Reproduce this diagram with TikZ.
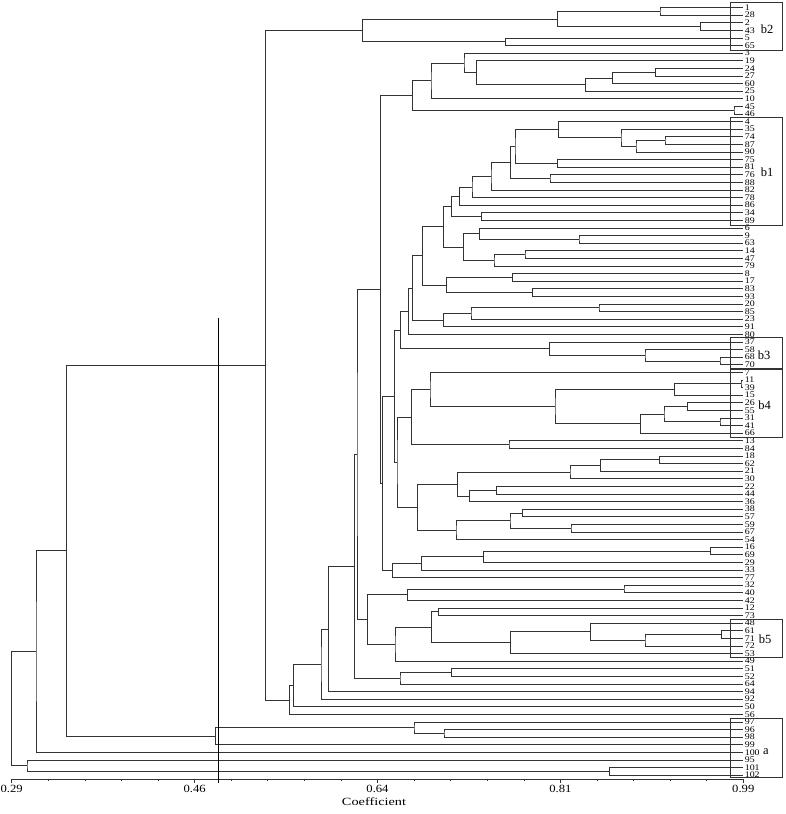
\documentclass[tikz,border=0pt]{standalone}
\usepackage{fontspec}
\setmainfont{Liberation Serif}
\usetikzlibrary{calc}
\newcommand\jn[4]{%
  \path let \p1=(#3), \p2=(#4) in ({#2pt},{(\y1+\y2)/2}) coordinate (#1);%
  \draw[br] (#3) -| (#1) |- (#4);%
}
\begin{document}
\begin{tikzpicture}[x=1pt,y=-1pt,
  br/.style={draw=black!80,line width=0.55pt},
  lf/.style={anchor=west,inner sep=0.3pt,font=\fontsize{8.6}{8.6}\selectfont},
  grpbox/.style={draw=black!80,line width=0.8pt},
  grplab/.style={font=\fontsize{12.5}{12.5}\selectfont,inner sep=0pt},
  axst/.style={draw=black!80,line width=0.6pt},
  axlab/.style={font=\fontsize{11}{11}\selectfont,inner sep=0pt},
  cutst/.style={draw=black,line width=0.7pt}]
\useasboundingbox (0,0) rectangle (786,814);
% leaves
\foreach \lab [count=\i from 0] in {1,28,2,43,5,65,3,19,24,27,60,25,10,45,46,4,35,74,87,90,75,81,76,88,82,78,86,34,89,6,9,63,14,47,79,8,17,83,93,20,85,23,91,80,37,58,68,70,7,11,39,15,26,55,31,41,66,13,84,18,62,21,30,22,44,36,38,57,59,67,54,16,69,29,33,77,32,40,42,12,73,48,61,71,72,53,49,51,52,64,94,92,50,56,97,96,98,99,100,95,101,102} {
  \coordinate (L\lab) at (743,{7.5+7.6*\i});
  \node[lf] (t\lab) at (744.3,{7.5+7.6*\i}) {\scalebox{1.15}[1]{\lab}};
}
% b2
\jn{a1}{660}{L1}{L28}
\jn{a2}{700.7}{L2}{L43}
\jn{a3}{557.7}{a1}{a2}
\jn{a4}{505.7}{L5}{L65}
\jn{a5}{362.7}{a3}{a4}
% cluster 3..46
\jn{c1}{655.7}{L24}{L27}
\jn{c2}{612.7}{c1}{L60}
\jn{c3}{585.7}{c2}{L25}
\jn{c4}{476.7}{L19}{c3}
\jn{c5}{464}{L3}{c4}
\jn{c6}{431}{c5}{L10}
\jn{c7}{734}{L45}{L46}
\jn{c8}{412.3}{c6}{c7}
% b1
\jn{d1}{665}{L74}{L87}
\jn{d2}{636}{d1}{L90}
\jn{d3}{621}{L35}{d2}
\jn{d4}{558.7}{L4}{d3}
\jn{d5}{557.3}{L75}{L81}
\jn{d6}{515}{d4}{d5}
\jn{d7}{550}{L76}{L88}
\jn{d8}{510.7}{d6}{d7}
\jn{d9}{491}{d8}{L82}
\jn{d10}{472}{d9}{L78}
\jn{d11}{459.3}{d10}{L86}
\jn{d12}{481.7}{L34}{L89}
\jn{d13}{451.7}{d11}{d12}
\jn{e1}{579}{L9}{L63}
\jn{e2}{479.3}{L6}{e1}
\jn{e3}{525}{L14}{L47}
\jn{e4}{494}{e3}{L79}
\jn{e5}{463.3}{e2}{e4}
\jn{e6}{443.7}{d13}{e5}
\jn{e7}{512.3}{L8}{L17}
\jn{e8}{532.3}{L83}{L93}
\jn{e9}{446.7}{e7}{e8}
\jn{e10}{422.7}{e6}{e9}
\jn{e11}{599}{L20}{L85}
\jn{e12}{471}{e11}{L23}
\jn{e13}{443.7}{e12}{L91}
\jn{e14}{412.7}{e10}{e13}
\jn{e15}{408.7}{e14}{L80}
% b3
\jn{f1}{720}{L68}{L70}
\jn{f2}{645}{L58}{f1}
\jn{f3}{549.3}{L37}{f2}
\jn{f4}{400.7}{e15}{f3}
% b4
\jn{g1}{741}{L11}{L39}
\jn{g2}{674.3}{g1}{L15}
\jn{g3}{687.7}{L26}{L55}
\jn{g4}{720}{L31}{L41}
\jn{g5}{664}{g3}{g4}
\jn{g6}{640.7}{g5}{L66}
\jn{g7}{555}{g2}{g6}
\jn{g8}{430}{L7}{g7}
\jn{g9}{509}{L13}{L84}
\jn{g10}{411.7}{g8}{g9}
\jn{h1}{659.3}{L18}{L62}
\jn{h2}{600.7}{h1}{L21}
\jn{h3}{570}{h2}{L30}
\jn{h4}{496.7}{L22}{L44}
\jn{h5}{469.3}{h4}{L36}
\jn{h6}{457.3}{h3}{h5}
\jn{h7}{522.7}{L38}{L57}
\jn{h8}{571}{L59}{L67}
\jn{h9}{510}{h7}{h8}
\jn{h10}{456}{h9}{L54}
\jn{h11}{417.7}{h6}{h10}
\jn{h12}{397}{g10}{h11}
\jn{h13}{394.7}{f4}{h12}
\jn{i1}{710.7}{L16}{L69}
\jn{i2}{483.3}{i1}{L29}
\jn{i3}{421.7}{i2}{L33}
\jn{i4}{392.5}{i3}{L77}
\jn{i5}{382.5}{h13}{i4}
\jn{i6}{380.7}{c8}{i5}
% b5 and neighbours
\jn{j1}{624}{L32}{L40}
\jn{j2}{407.7}{j1}{L42}
\jn{j3}{438.3}{L12}{L73}
\jn{j4}{721.7}{L61}{L71}
\jn{j5}{645}{j4}{L72}
\jn{j6}{590.7}{L48}{j5}
\jn{j7}{510.7}{j6}{L53}
\jn{j8}{431.3}{j3}{j7}
\jn{j9}{395}{j8}{L49}
\jn{j10}{367.3}{j2}{j9}
\jn{k1}{357}{i6}{j10}
\jn{k2}{451.7}{L51}{L52}
\jn{k3}{400}{k2}{L64}
\jn{k4}{354.5}{k1}{k3}
\jn{k5}{328.3}{k4}{L94}
\jn{k6}{321}{k5}{L92}
\jn{k7}{293.3}{k6}{L50}
\jn{k8}{289.3}{k7}{L56}
\jn{m1}{265.7}{a5}{k8}
% group a
\jn{n1}{444}{L96}{L98}
\jn{n2}{414}{L97}{n1}
\jn{n3}{215.7}{n2}{L99}
\jn{n4}{66.3}{m1}{n3}
\jn{p1}{609.3}{L101}{L102}
\jn{p2}{27}{L95}{p1}
\jn{r1}{36}{n4}{L100}
\jn{r0}{11.7}{r1}{p2}
% group boxes
\draw[grpbox] (730.7,2.3) rectangle (782.3,50);
\node[grplab] (lb2) at (767,29.3) {b2};
\draw[grpbox] (730.7,117.3) rectangle (782.3,225);
\node[grplab] (lb1) at (767,172.7) {b1};
\draw[grpbox] (730.7,337.3) rectangle (782.3,368.8);
\node[grplab] (lb3) at (764,355.7) {b3};
\draw[grpbox] (730.7,369.3) rectangle (782.3,437.3);
\node[grplab] (lb4) at (764.5,405.7) {b4};
\draw[grpbox] (730.7,619) rectangle (782.3,657.7);
\node[grplab] (lb5) at (765,639) {b5};
\draw[grpbox] (730.7,718.3) rectangle (782.3,777.3);
\node[grplab] (lba) at (766,751.5) {a};
% axis
\coordinate (ax0) at (11.7,779.3);
\coordinate (ax1) at (743.3,779.3);
\draw[axst] (ax0) -- (ax1);
\foreach \k in {0,...,20} {\draw[axst] ({11.7+36.58*\k},779.3) -- ++(0,2);}
\foreach \k/\v in {0/0.29,5/0.46,10/0.64,15/0.81,20/0.99} {
  \draw[axst] ({11.7+36.58*\k},779.3) -- ++(0,4);
  \node[axlab] (tick\k) at ({11.7+36.58*\k},789.3) {\scalebox{1.15}[1]{\v}};
}
\node[axlab] (axname) at (374,801.5) {\scalebox{1.3}[1]{Coefficient}};
% cut-off line
\coordinate (cutT) at (218,317.7);
\coordinate (cutB) at (218,782.7);
\draw[cutst] (cutT) -- (cutB);
\end{tikzpicture}
\end{document}
